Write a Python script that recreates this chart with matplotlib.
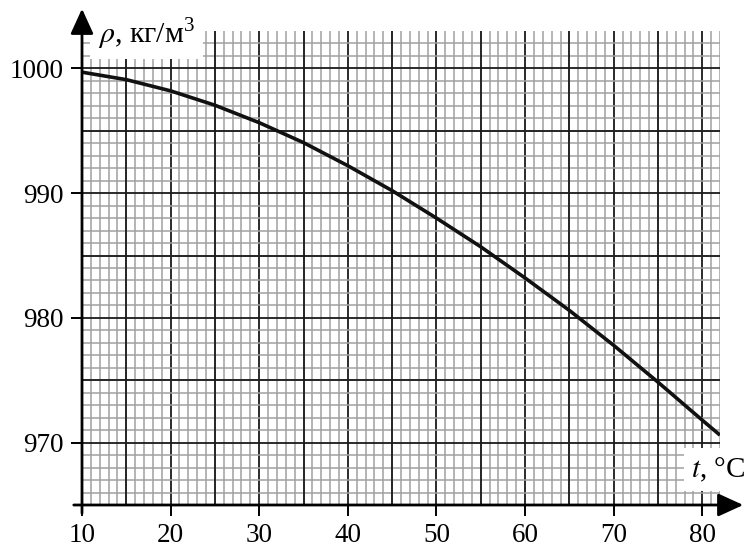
import numpy as np
import matplotlib
matplotlib.use("Agg")
import matplotlib.pyplot as plt
from matplotlib.ticker import FixedLocator

# data
t_vals = [10, 15, 20, 25, 30, 35, 40, 45, 50, 55, 60, 65, 70, 75, 80, 82]
rho_vals = [999.7, 999.1, 998.2, 997.05, 995.65, 994.05, 992.2, 990.2,
            988.0, 985.7, 983.2, 980.6, 977.8, 974.85, 971.8, 970.6]
x_ticks = [10, 20, 30, 40, 50, 60, 70, 80]
y_ticks = [970, 980, 990, 1000]

plt.rcParams['font.family'] = ['Liberation Serif', 'DejaVu Serif']
plt.rcParams['mathtext.fontset'] = 'stix'
plt.rcParams['lines.solid_capstyle'] = 'butt'

fig = plt.figure(figsize=(7.46, 5.47), dpi=100)
ax = fig.add_axes([82/746, 1-505/547, (720-82)/746, (505-31)/547])
ax.set_xlim(10, 82)
ax.set_ylim(965, 1003)

ax.xaxis.set_major_locator(FixedLocator(x_ticks))
ax.yaxis.set_major_locator(FixedLocator(y_ticks))
ax.xaxis.set_minor_locator(FixedLocator(np.arange(11, 83, 1)))
ax.yaxis.set_minor_locator(FixedLocator(np.arange(966, 1003, 1)))

ax.set_axisbelow(True)
ax.grid(which='major', color='#1a1a1a', linewidth=1.3)
ax.grid(which='minor', color='#a0a0a0', linewidth=1.1)
for v in np.arange(15, 82, 10):
    ax.axvline(v, color='#1a1a1a', linewidth=1.3, zorder=0.7)
for v in np.arange(975, 1003, 10):
    ax.axhline(v, color='#1a1a1a', linewidth=1.3, zorder=0.7)

ax.tick_params(which='major', direction='out', length=8, width=1.4,
               labelsize=19.5, colors='black', pad=5)
ax.tick_params(which='minor', length=0, width=0)

for s in ax.spines.values():
    s.set_visible(False)

ax.plot(t_vals, rho_vals, color='#111111', linewidth=2.6, zorder=3)

def fx(px):
    return px / 746
def fy(py):
    return 1 - py / 547

fig.add_artist(matplotlib.patches.FancyArrowPatch(
    (fx(82), fy(516)), (fx(82), fy(6)), transform=fig.transFigure,
    arrowstyle='-|>,head_length=7,head_width=3.2', color='black',
    linewidth=2.0, mutation_scale=2.2, zorder=5))
fig.add_artist(matplotlib.patches.FancyArrowPatch(
    (fx(71), fy(505)), (fx(746), fy(505)), transform=fig.transFigure,
    arrowstyle='-|>,head_length=7,head_width=3.2', color='black',
    linewidth=2.0, mutation_scale=2.2, zorder=5))

ax.text(0.025, 1.03, r'$\rho$, кг/м$^{\mathregular{3}}$', transform=ax.transAxes,
        fontsize=21.5, ha='left', va='top', zorder=4, clip_on=False,
        bbox=dict(boxstyle='square,pad=0.25', facecolor='white',
                  edgecolor='none'))
ax.text(1.04, 0.045, r'$t$, °C', transform=ax.transAxes,
        fontsize=21, ha='right', va='bottom', zorder=4, clip_on=False,
        bbox=dict(boxstyle='square,pad=0.25', facecolor='white',
                  edgecolor='none'))

fig.savefig('out.png', dpi=100)
